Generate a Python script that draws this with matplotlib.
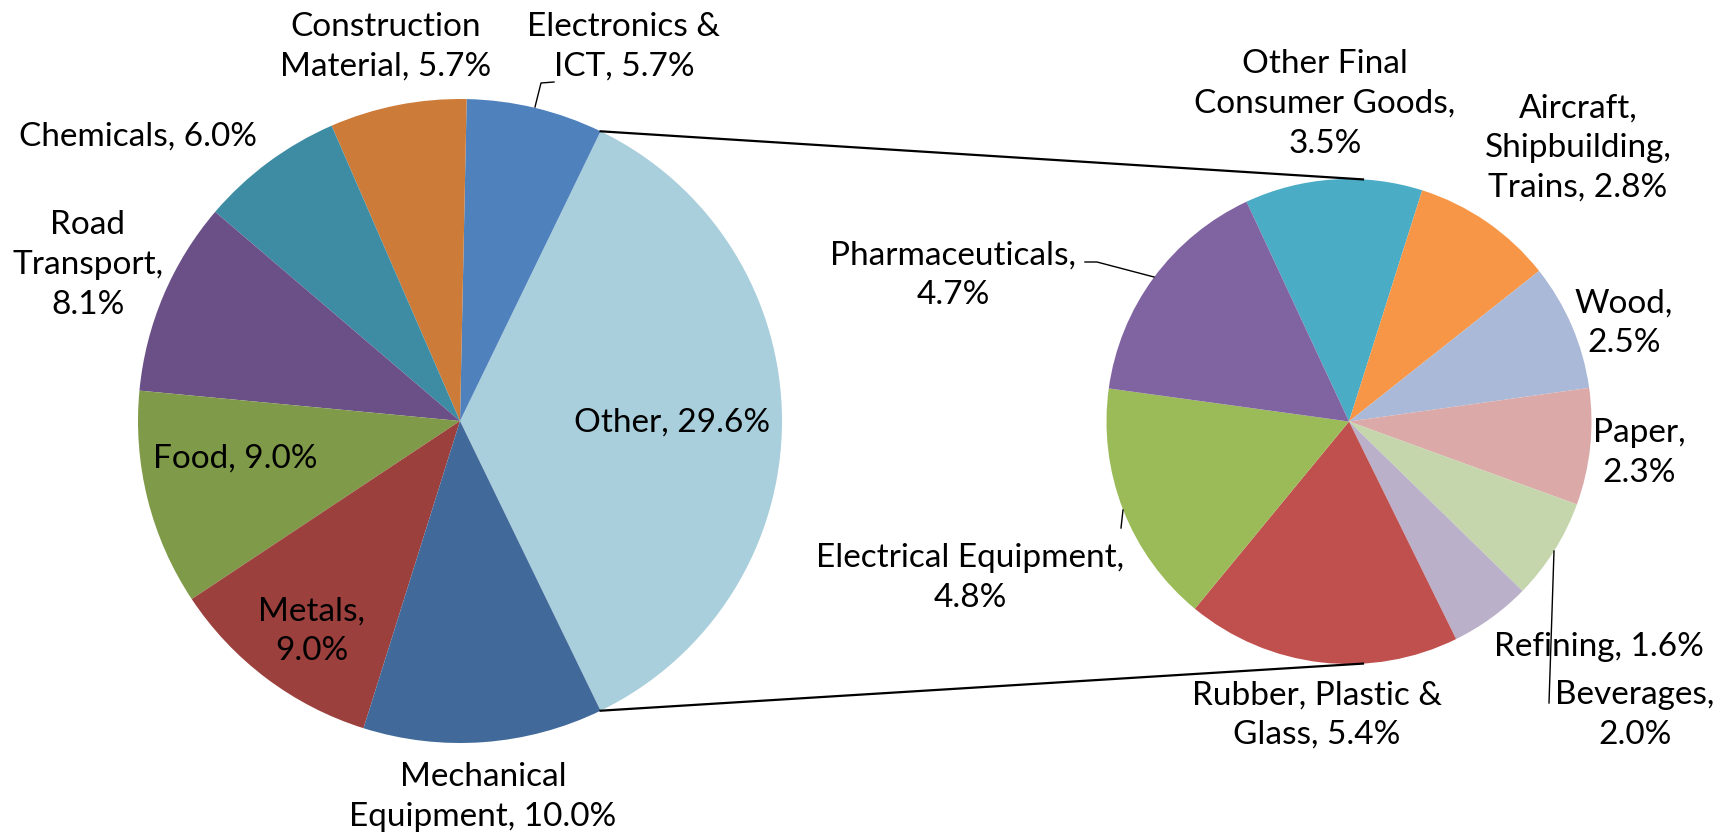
import numpy as np
import matplotlib
matplotlib.use("Agg")
import matplotlib.pyplot as plt

# main pie (drawn counter-clockwise, starting with "Other")
main_labels = ["Other", "Electronics & ICT", "Construction Material", "Chemicals",
               "Road Transport", "Food", "Metals", "Mechanical Equipment"]
main_values = [29.6, 5.7, 5.7, 6.0, 8.1, 9.0, 9.0, 10.0]
main_colors = ["#A9CEDC", "#4F81BD", "#CC7B38", "#3D8CA4",
               "#6A5087", "#7F9A48", "#9C403D", "#416A9A"]

# secondary pie = breakdown of "Other" (drawn clockwise)
sub_labels = ["Other Final Consumer Goods", "Aircraft, Shipbuilding, Trains", "Wood", "Paper",
              "Beverages", "Refining", "Rubber, Plastic & Glass", "Electrical Equipment",
              "Pharmaceuticals"]
sub_values = [3.5, 2.8, 2.5, 2.3, 2.0, 1.6, 5.4, 4.8, 4.7]
sub_colors = ["#4BACC6", "#F79646", "#AAB9D7", "#DBA9A8",
              "#C6D6AC", "#BAB0C9", "#C0504D", "#9BBB59", "#8064A2"]

# how each label is wrapped (same as the original)
main_fmt = ["{n}, {v}", "Electronics &\nICT, {v}", "Construction\nMaterial, {v}", "{n}, {v}",
            "Road\nTransport,\n{v}", "{n}, {v}", "{n},\n{v}", "Mechanical\nEquipment, {v}"]
sub_fmt = ["Other Final\nConsumer Goods,\n{v}", "Aircraft,\nShipbuilding,\nTrains, {v}",
           "{n},\n{v}", "{n},\n{v}", "{n},\n{v}", "{n}, {v}",
           "Rubber, Plastic &\nGlass, {v}", "{n},\n{v}", "{n},\n{v}"]

W, H = 1731, 838
plt.rcParams['font.family'] = ['Lato', 'DejaVu Sans']
fig = plt.figure(figsize=(W / 100, H / 100), dpi=100)
ax = fig.add_axes([0, 0, 1, 1])


def py(y):
    # pixel row (from top) -> data y
    return H - y


c1 = (460, py(421))
r1 = 322
c2 = (1349, py(421.5))
r2 = 242.5

half = main_values[0] / sum(main_values) * 360 / 2
ax.pie(main_values, colors=main_colors, startangle=-half, counterclock=True,
       center=c1, radius=r1, wedgeprops=dict(linewidth=0), frame=True)
ax.pie(sub_values, colors=sub_colors, startangle=115, counterclock=False,
       center=c2, radius=r2, wedgeprops=dict(linewidth=0), frame=True)
ax.set_xlim(0, W)
ax.set_ylim(0, H)
ax.set_aspect('equal')
ax.axis('off')

# connector lines between pies
a1 = np.radians(half)
a2 = np.radians(86.7)
for s in (1, -1):
    ax.plot([c1[0] + r1 * np.cos(a1), c2[0] + r2 * np.cos(a2)],
            [c1[1] + s * r1 * np.sin(a1), c2[1] + s * r2 * np.sin(a2)],
            color="black", lw=1.6)

fs = 24
def lab(txt, x, y):
    ax.text(x, py(y), txt, ha="center", va="center", fontsize=fs,
            linespacing=1.4, color="black")

main_pos = [(672, 423), (624, 47), (386, 47), (138, 137),
            (88, 265), (235, 459), (312, 631), (483, 797)]
for f, n, v, (x, y) in zip(main_fmt, main_labels, main_values, main_pos):
    lab(f.format(n=n, v=f"{v:.1f}%"), x, y)

sub_pos = [(1325, 104), (1578, 148), (1624, 323), (1639, 453),
           (1635, 715), (1599, 647), (1317, 715), (970, 578), (953, 275)]
for f, n, v, (x, y) in zip(sub_fmt, sub_labels, sub_values, sub_pos):
    lab(f.format(n=n, v=f"{v:.1f}%"), x, y)

# leader lines
leaders = [
    [(554, 82), (541, 83), (535, 107)],
    [(1085, 262), (1097, 262), (1154, 277)],
    [(1123, 510), (1121, 528)],
    [(1554, 551), (1549, 703)],
]
for pts in leaders:
    ax.plot([p[0] for p in pts], [py(p[1]) for p in pts], color="black", lw=1)

fig.savefig("out.png", dpi=100)
